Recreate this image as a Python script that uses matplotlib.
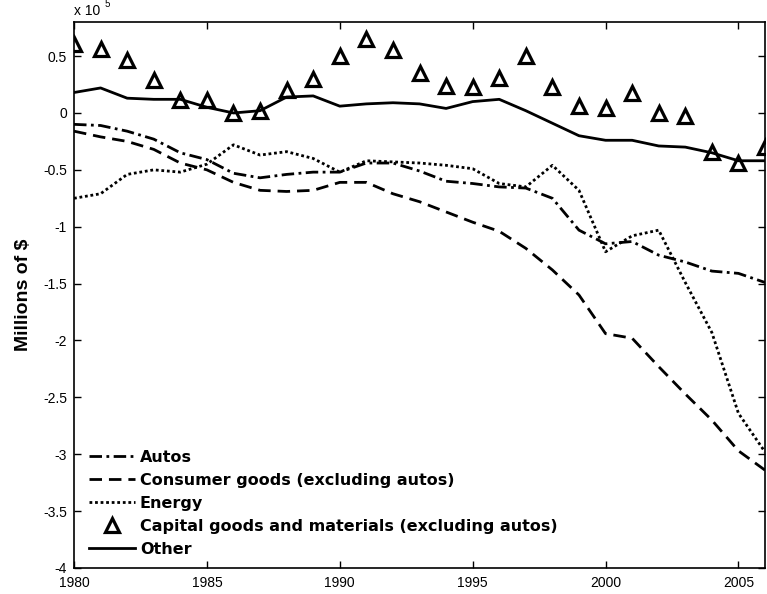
import numpy as np
import matplotlib
matplotlib.use("Agg")
import matplotlib.pyplot as plt
from matplotlib.ticker import MultipleLocator, FuncFormatter

plt.rcParams['font.family'] = ['Liberation Sans', 'DejaVu Sans']
plt.rcParams['axes.unicode_minus'] = False

# values in units of 1e5 millions of $
years = list(range(1980, 2007))

autos = [-0.10, -0.11, -0.16, -0.23, -0.35, -0.41, -0.53, -0.57, -0.54, -0.52,
         -0.52, -0.44, -0.44, -0.51, -0.60, -0.62, -0.65, -0.66, -0.75, -1.03,
         -1.15, -1.13, -1.25, -1.31, -1.39, -1.41, -1.49]

consumer = [-0.16, -0.21, -0.25, -0.32, -0.44, -0.50, -0.61, -0.68, -0.69, -0.68,
            -0.61, -0.61, -0.71, -0.78, -0.87, -0.96, -1.04, -1.19, -1.38, -1.60,
            -1.94, -1.98, -2.23, -2.47, -2.70, -2.97, -3.14]

energy = [-0.75, -0.71, -0.54, -0.50, -0.52, -0.45, -0.28, -0.37, -0.34, -0.40,
          -0.52, -0.42, -0.43, -0.44, -0.46, -0.49, -0.62, -0.65, -0.46, -0.68,
          -1.22, -1.08, -1.03, -1.49, -1.93, -2.64, -2.98]

capital = [0.61, 0.56, 0.47, 0.29, 0.11, 0.11, 0.00, 0.02, 0.20, 0.30,
           0.50, 0.65, 0.55, 0.35, 0.24, 0.23, 0.31, 0.50, 0.23, 0.06,
           0.04, 0.18, 0.00, -0.03, -0.34, -0.44, -0.30]

other = [0.18, 0.22, 0.13, 0.12, 0.12, 0.05, 0.00, 0.02, 0.14, 0.15,
         0.06, 0.08, 0.09, 0.08, 0.04, 0.10, 0.12, 0.02, -0.09, -0.20,
         -0.24, -0.24, -0.29, -0.30, -0.35, -0.42, -0.42]

fig = plt.figure(figsize=(7.67, 5.94), dpi=100)
ax = fig.add_axes([0.0965, 0.0438, 0.9009, 0.9192])

lw = 2.0
ax.plot(years, autos, color='black', lw=lw, linestyle=(0, (4.5, 1.6, 1, 1.6)),
        label='Autos')
ax.plot(years, consumer, color='black', lw=lw, linestyle=(0, (4.5, 2.5)),
        label='Consumer goods (excluding autos)')
ax.plot(years, energy, color='black', lw=lw, linestyle=(0, (1, 1)),
        label='Energy')
ax.plot(years, capital, linestyle='none', marker='^', markersize=9.5,
        markerfacecolor='white', markeredgecolor='black', markeredgewidth=2.3,
        label='Capital goods and materials (excluding autos)')
ax.plot(years, other, color='black', lw=lw, label='Other')

ax.set_xlim(1980, 2006)
ax.set_ylim(-4, 0.8)
ax.xaxis.set_major_locator(MultipleLocator(5))
ax.yaxis.set_major_locator(MultipleLocator(0.5))
ax.yaxis.set_major_formatter(FuncFormatter(lambda v, p: '%g' % v))

ax.tick_params(direction='in', length=5, width=1, top=True, right=True,
               labelsize=10)
ax.tick_params(axis='x', pad=6)
ax.tick_params(axis='y', pad=5)
for s in ax.spines.values():
    s.set_linewidth(1.2)

ax.set_ylabel('Millions of $', fontsize=14, fontweight='bold', labelpad=8)

# exponent label above the y axis
ax.annotate('x 10', xy=(0, 1), xycoords='axes fraction', xytext=(0, 5),
            textcoords='offset points', fontsize=10, ha='left', va='baseline')
ax.annotate('5', xy=(0, 1), xycoords='axes fraction', xytext=(22, 11),
            textcoords='offset points', fontsize=7, ha='left', va='baseline')

leg = ax.legend(loc='upper left', bbox_to_anchor=(0.012, 0.228), frameon=False,
                prop={'weight': 'bold', 'size': 11.5, 'family': 'DejaVu Sans'},
                handlelength=2.9, handletextpad=0.3, labelspacing=0.5,
                numpoints=1, borderaxespad=0.0)

fig.savefig('out.png', dpi=100)
